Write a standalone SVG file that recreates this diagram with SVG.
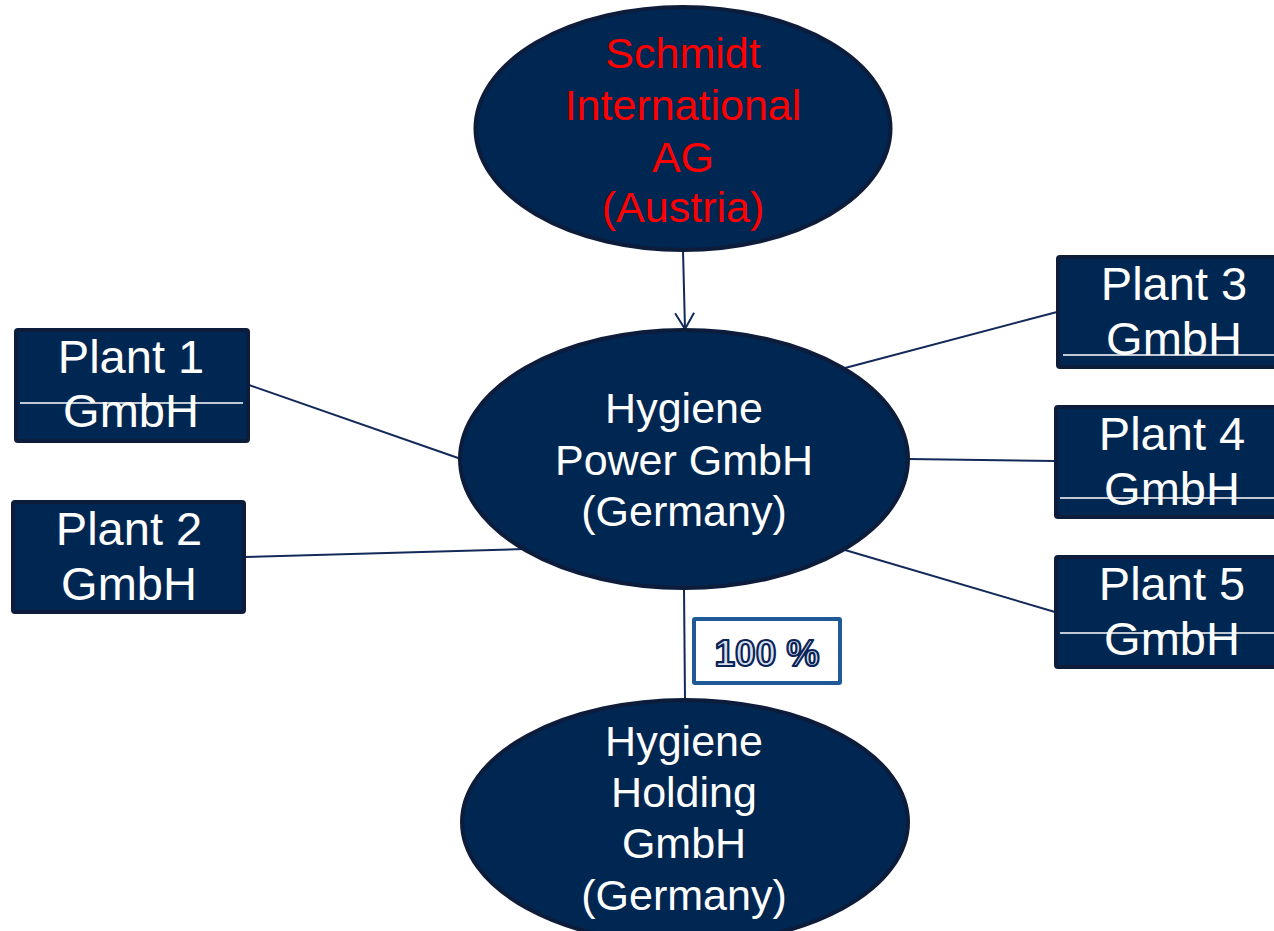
<svg xmlns="http://www.w3.org/2000/svg" width="1274" height="931" viewBox="0 0 1274 931">
<style>
.node{fill:#002652;stroke:#0c1c3a;stroke-width:4}
.box{fill:#002652;stroke:#0c1c3a;stroke-width:4}
.t{font-family:"Liberation Sans",Arial,sans-serif;font-size:43px;fill:#ffffff;text-anchor:middle}
.red{fill:#ff0000}
.pt{font-family:"Liberation Sans",Arial,sans-serif;font-size:47px;fill:#ffffff;text-anchor:middle}
.wl{stroke:#ffffff;stroke-width:1.3}
.c{stroke:#13295a;stroke-width:2;fill:none}
.pct{font-family:"Liberation Sans",Arial,sans-serif;font-size:37px;font-weight:bold;fill:#d6e0ec;stroke:#0b2458;stroke-width:2.2;stroke-linejoin:round;text-anchor:middle}
</style>
<defs>
<marker id="arrow" markerUnits="userSpaceOnUse" markerWidth="40" markerHeight="40" viewBox="-20 -20 40 40" refX="0" refY="0" orient="auto">
<path d="M-16,-9.5 L0,0 L-16,9.5" fill="none" stroke="#13295a" stroke-width="2"/>
</marker>
</defs>
<rect width="1274" height="931" fill="#ffffff"/>
<g id="connectors">
<line class="c" x1="683" y1="250" x2="685" y2="329" marker-end="url(#arrow)"/>
<line class="c" x1="249" y1="385" x2="461" y2="459"/>
<line class="c" x1="245" y1="557" x2="524" y2="549"/>
<line class="c" x1="1057" y1="312" x2="845" y2="368"/>
<line class="c" x1="1055" y1="461" x2="908" y2="459"/>
<line class="c" x1="1055" y1="612" x2="845" y2="550"/>
<line class="c" x1="684" y1="588" x2="685" y2="700"/>
</g>
<g id="schmidt">
<ellipse class="node" cx="683" cy="128.5" rx="207.5" ry="121.5"/>
<text class="t red" x="683" y="68">Schmidt</text>
<text class="t red" x="683" y="120">International</text>
<text class="t red" x="683" y="172">AG</text>
<text class="t red" x="683" y="222">(Austria)</text>
</g>
<g id="hygiene-power">
<ellipse class="node" cx="684" cy="459" rx="224" ry="129"/>
<text class="t" x="684" y="423">Hygiene</text>
<text class="t" x="684" y="475">Power GmbH</text>
<text class="t" x="684" y="526">(Germany)</text>
</g>
<g id="hygiene-holding">
<ellipse class="node" cx="685" cy="822" rx="223" ry="122"/>
<text class="t" x="684" y="756">Hygiene</text>
<text class="t" x="684" y="807">Holding</text>
<text class="t" x="684" y="858">GmbH</text>
<text class="t" x="684" y="910">(Germany)</text>
</g>
<g id="plant1">
<rect class="box" x="16" y="330" width="232" height="111" rx="2"/>
<text class="pt" x="131" y="373">Plant 1</text>
<text class="pt" x="131" y="427">GmbH</text>
<line class="wl" x1="20" y1="403" x2="243" y2="403"/>
</g>
<g id="plant2">
<rect class="box" x="13" y="502" width="231" height="110" rx="2"/>
<text class="pt" x="129" y="545">Plant 2</text>
<text class="pt" x="129" y="600">GmbH</text>
</g>
<g id="plant3">
<rect class="box" x="1058" y="257" width="234" height="110" rx="2"/>
<text class="pt" x="1174" y="300">Plant 3</text>
<text class="pt" x="1174" y="355">GmbH</text>
<line class="wl" x1="1063" y1="355" x2="1274" y2="355"/>
</g>
<g id="plant4">
<rect class="box" x="1056" y="407" width="234" height="110" rx="2"/>
<text class="pt" x="1172" y="450">Plant 4</text>
<text class="pt" x="1172" y="505">GmbH</text>
<line class="wl" x1="1060" y1="498" x2="1274" y2="498"/>
</g>
<g id="plant5">
<rect class="box" x="1056" y="557" width="234" height="110" rx="2"/>
<text class="pt" x="1172" y="600">Plant 5</text>
<text class="pt" x="1172" y="655">GmbH</text>
<line class="wl" x1="1060" y1="633" x2="1274" y2="633"/>
</g>
<g id="label-100">
<rect x="694" y="619" width="146" height="64" fill="#ffffff" stroke="#1f5a96" stroke-width="4" rx="1"/>
<text class="pct" x="767" y="666">100 %</text>
</g>
</svg>
